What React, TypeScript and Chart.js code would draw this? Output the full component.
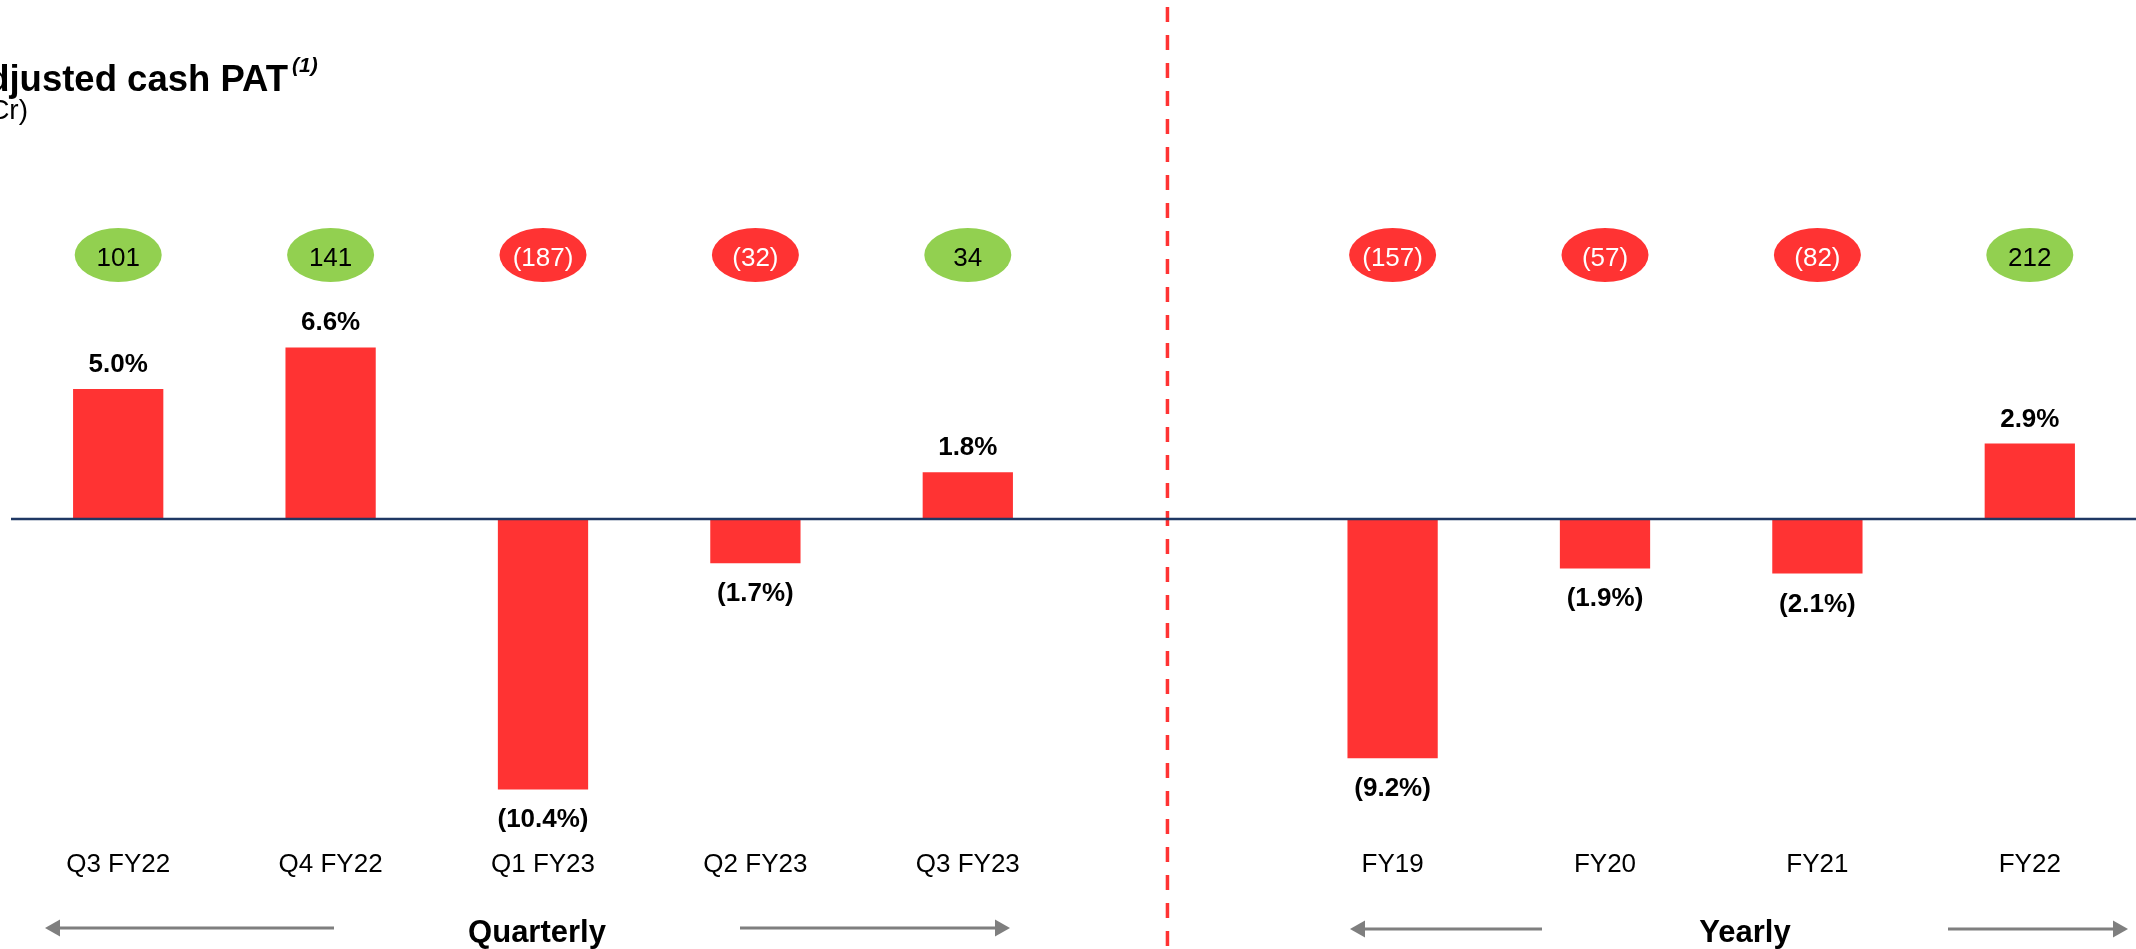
import React, { useEffect, useRef } from "react";
import { Chart, registerables } from "chart.js";

Chart.register(...registerables);

// ---------- data ----------
const categories = ["Q3 FY22", "Q4 FY22", "Q1 FY23", "Q2 FY23", "Q3 FY23", "", "FY19", "FY20", "FY21", "FY22"];
const marginPct: (number | null)[] = [5.0, 6.6, -10.4, -1.7, 1.8, null, -9.2, -1.9, -2.1, 2.9];
const cashPat: (number | null)[] = [101, 141, -187, -32, 34, null, -157, -57, -82, 212];
const groupLabels = ["Quarterly", "Yearly"];
const titleText = "Adjusted cash PAT";
const titleNote = "(1)";
const unitText = "(INR Cr)";

// ---------- styles ----------
const RED = "#FF3333";
const GREEN = "#92D050";
const NAVY = "#1F3864";
const GREY = "#7F7F7F";
const FONT = 'Arial, "Liberation Sans", Helvetica, sans-serif';
const dividerAt = 4.94;

function fmtPct(v: number) {
  return v < 0 ? `(${Math.abs(v).toFixed(1)}%)` : `${v.toFixed(1)}%`;
}
function fmtNum(v: number) {
  return v < 0 ? `(${Math.abs(v)})` : `${v}`;
}

function arrow(ctx: CanvasRenderingContext2D, x1: number, x2: number, y: number, dir: -1 | 1) {
  ctx.strokeStyle = GREY;
  ctx.fillStyle = GREY;
  ctx.lineWidth = 3;
  const head = 15;
  ctx.beginPath();
  ctx.moveTo(x1, y);
  ctx.lineTo(x2 - dir * head + dir * 2, y);
  ctx.stroke();
  ctx.beginPath();
  ctx.moveTo(x2, y);
  ctx.lineTo(x2 - dir * head, y - 8.5);
  ctx.lineTo(x2 - dir * head, y + 8.5);
  ctx.closePath();
  ctx.fill();
}

const overlay = {
  id: "overlay",
  afterDatasetsDraw(chart: any) {
    const ctx: CanvasRenderingContext2D = chart.ctx;
    const xs = chart.scales.x;
    const ys = chart.scales.y;
    const y0 = ys.getPixelForValue(0);
    ctx.save();

    // divider (dashed red)
    const dx = xs.getPixelForValue(dividerAt);
    ctx.strokeStyle = RED;
    ctx.lineWidth = 3.5;
    ctx.setLineDash([15, 13]);
    ctx.beginPath();
    ctx.moveTo(dx, 7);
    ctx.lineTo(dx, chart.height);
    ctx.stroke();
    ctx.setLineDash([]);

    // zero line
    ctx.strokeStyle = NAVY;
    ctx.lineWidth = 2.5;
    ctx.beginPath();
    ctx.moveTo(11, y0);
    ctx.lineTo(chart.width, y0);
    ctx.stroke();

    const meta = chart.getDatasetMeta(0);
    ctx.textAlign = "center";
    ctx.textBaseline = "alphabetic";

    // bar value labels
    ctx.font = `bold 26px ${FONT}`;
    ctx.fillStyle = "#000";
    marginPct.forEach((v, i) => {
      if (v == null) return;
      const bar = meta.data[i];
      const px = bar.x;
      const py = ys.getPixelForValue(v);
      if (v >= 0) ctx.fillText(fmtPct(v), px, py - 17);
      else ctx.fillText(fmtPct(v), px, py + 38);
    });

    // bubbles
    const by = 255;
    cashPat.forEach((v, i) => {
      if (v == null) return;
      const px = xs.getPixelForValue(i);
      ctx.fillStyle = v >= 0 ? GREEN : RED;
      ctx.beginPath();
      ctx.ellipse(px, by, 43.5, 27, 0, 0, Math.PI * 2);
      ctx.fill();
      ctx.fillStyle = v >= 0 ? "#000" : "#fff";
      ctx.font = `26px ${FONT}`;
      ctx.fillText(fmtNum(v), px, by + 11);
    });

    // category labels
    ctx.fillStyle = "#000";
    ctx.font = `26px ${FONT}`;
    categories.forEach((c, i) => {
      if (!c) return;
      ctx.fillText(c, xs.getPixelForValue(i), 872);
    });

    // group labels and arrows
    ctx.font = `bold 31px ${FONT}`;
    ctx.fillStyle = "#000";
    ctx.fillText(groupLabels[0], 537, 942);
    ctx.fillText(groupLabels[1], 1745, 942);
    arrow(ctx, 334, 45, 928, -1);
    arrow(ctx, 740, 1010, 928, 1);
    arrow(ctx, 1542, 1350, 929, -1);
    arrow(ctx, 1948, 2128, 929, 1);

    // title
    ctx.fillStyle = "#000";
    ctx.textAlign = "right";
    ctx.font = `bold 36.5px ${FONT}`;
    ctx.fillText(titleText, 288, 91);
    ctx.textAlign = "left";
    ctx.font = `italic bold 21px ${FONT}`;
    ctx.fillText(titleNote, 292, 72);
    ctx.textAlign = "right";
    ctx.font = `28px ${FONT}`;
    ctx.fillText(unitText, 28, 119);

    ctx.restore();
  },
};

export default function App() {
  const ref = useRef<HTMLCanvasElement | null>(null);
  useEffect(() => {
    if (!ref.current) return;
    const chart = new Chart(ref.current, {
      type: "bar",
      data: {
        labels: categories,
        datasets: [
          {
            data: marginPct as any,
            backgroundColor: RED,
            borderWidth: 0,
            barPercentage: 0.85,
            categoryPercentage: 0.5,
          },
        ],
      },
      options: {
        responsive: false,
        animation: false,
        devicePixelRatio: 1,
        layout: { padding: { top: 207, bottom: 118, left: 12, right: 0 } },
        plugins: { legend: { display: false }, tooltip: { enabled: false }, title: { display: false } },
        scales: {
          x: { display: false },
          y: { display: false, min: -12, max: 12 },
        },
      },
      plugins: [overlay],
    });
    return () => chart.destroy();
  }, []);
  return (
    <canvas
      ref={ref}
      width={2136}
      height={949}
      style={{ position: "fixed", left: 0, top: 0, width: 2136, height: 949, background: "#fff" }}
    />
  );
}
